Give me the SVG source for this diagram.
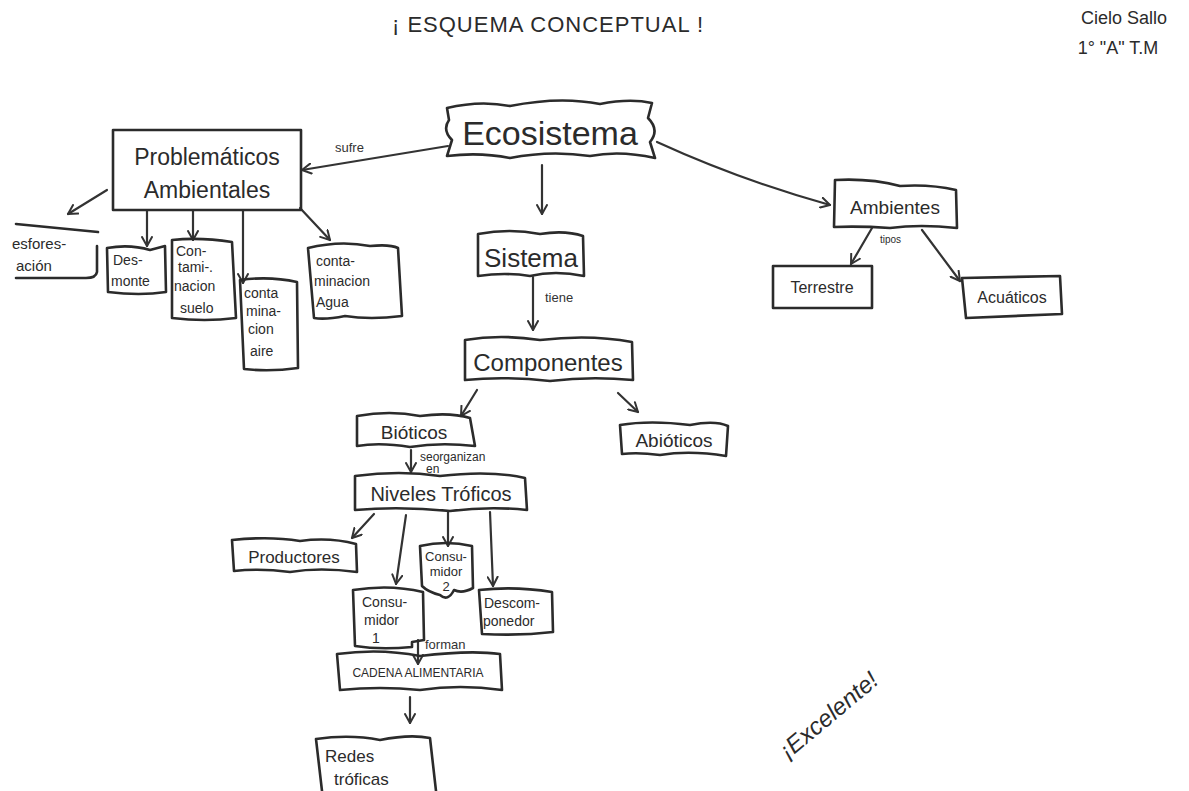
<svg xmlns="http://www.w3.org/2000/svg" width="1189" height="791" viewBox="0 0 1189 791">
<style>
.b{fill:none;stroke:#2b2b2b;stroke-width:2.6;stroke-linejoin:round;stroke-linecap:round}
.c{fill:none;stroke:#333;stroke-width:2.2;stroke-linecap:round}
.t{font-family:"Liberation Sans",Arial,sans-serif;fill:#2b2b2b}
.s{font-size:14px}
.m{font-size:15px}
.l{font-size:13px;fill:#333}
</style>
<defs>
<marker id="ah" viewBox="0 0 12 12" refX="10" refY="6" markerWidth="12" markerHeight="12" markerUnits="userSpaceOnUse" orient="auto">
<path d="M1,1 L10,6 L1,11" fill="none" stroke="#333" stroke-width="2" stroke-linecap="round" stroke-linejoin="round"/>
</marker>
</defs>
<rect width="1189" height="791" fill="#fff"/>

<g id="title">
<text class="t" x="548" y="32" font-size="22" text-anchor="middle" fill="#444" letter-spacing="1">¡ ESQUEMA CONCEPTUAL !</text>
</g>
<g id="author">
<text class="t" x="1124" y="24" font-size="18" text-anchor="middle" fill="#444">Cielo Sallo</text>
<text class="t" x="1118" y="54" font-size="18" text-anchor="middle" fill="#444">1° "A" T.M</text>
</g>

<g id="connectors">
<path class="c" d="M448,146 L302,170" marker-end="url(#ah)"/>
<path class="c" d="M542,165 L542,214" marker-end="url(#ah)"/>
<path class="c" d="M657,142 Q740,180 830,205" marker-end="url(#ah)"/>
<path class="c" d="M533,277 L533,330" marker-end="url(#ah)"/>
<path class="c" d="M477,390 L461,416" marker-end="url(#ah)"/>
<path class="c" d="M618,393 L638,412" marker-end="url(#ah)"/>
<path class="c" d="M411,450 L411,472" marker-end="url(#ah)"/>
<path class="c" d="M374,514 L352,538" marker-end="url(#ah)"/>
<path class="c" d="M406,515 L396,584" marker-end="url(#ah)"/>
<path class="c" d="M448,512 L448,546" marker-end="url(#ah)"/>
<path class="c" d="M490,512 L493,586" marker-end="url(#ah)"/>
<path class="c" d="M418,640 L418,664" marker-end="url(#ah)"/>
<path class="c" d="M410,697 L410,723" marker-end="url(#ah)"/>
<path class="c" d="M107,190 L68,214" marker-end="url(#ah)"/>
<path class="c" d="M147,211 L147,246" marker-end="url(#ah)"/>
<path class="c" d="M193,211 L193,240" marker-end="url(#ah)"/>
<path class="c" d="M243,211 L243,283" marker-end="url(#ah)"/>
<path class="c" d="M300,208 L330,240" marker-end="url(#ah)"/>
<path class="c" d="M872,228 L851,264" marker-end="url(#ah)"/>
<path class="c" d="M922,230 L960,281" marker-end="url(#ah)"/>
<text class="t l" x="335" y="152">sufre</text>
<text class="t l" x="545" y="302">tiene</text>
<text class="t" x="420" y="461" font-size="12" fill="#333">seorganizan</text>
<text class="t" x="426" y="473" font-size="12" fill="#333">en</text>
<text class="t l" x="425" y="649">forman</text>
<text class="t" x="880" y="243" font-size="10" fill="#333">tipos</text>
</g>

<g id="ecosistema">
<path class="b" d="M447,108 Q480,100 510,106 Q560,96 600,104 Q630,98 652,103 L648,118 Q660,130 650,142 L655,158 Q620,150 590,156 Q550,150 510,158 Q480,152 447,156 L452,140 Q442,130 449,120 Z"/>
<text class="t" x="550" y="145" font-size="34" text-anchor="middle">Ecosistema</text>
</g>

<g id="problematicas">
<rect class="b" x="113" y="130" width="188" height="80"/>
<text class="t" x="207" y="165" font-size="23" text-anchor="middle">Problemáticos</text>
<text class="t" x="207" y="198" font-size="23" text-anchor="middle">Ambientales</text>
</g>

<g id="deforestacion">
<path class="b" d="M16,224 L98,232 M97,246 L97,272 Q96,278 86,278 L16,278"/>
<text class="t m" x="12" y="249">esfores-</text>
<text class="t m" x="16" y="271">ación</text>
</g>

<g id="desmonte">
<path class="b" d="M107,248 Q130,244 150,250 L165,246 L166,292 Q140,296 108,292 Z"/>
<text class="t s" x="113" y="265">Des-</text>
<text class="t s" x="111" y="286">monte</text>
</g>

<g id="suelo">
<path class="b" d="M172,240 Q200,237 232,242 L236,318 Q205,322 172,318 Z"/>
<text class="t s" x="176" y="256">Con-</text>
<text class="t s" x="178" y="272">tami-.</text>
<text class="t s" x="174" y="291">nacion</text>
<text class="t s" x="180" y="313">suelo</text>
</g>

<g id="aire">
<path class="b" d="M240,280 Q270,276 297,282 L298,368 Q270,372 244,369 Z"/>
<text class="t s" x="244" y="298">conta</text>
<text class="t s" x="246" y="316">mina-</text>
<text class="t s" x="248" y="334">cion</text>
<text class="t s" x="250" y="356">aire</text>
</g>

<g id="agua">
<path class="b" d="M308,248 Q340,240 370,246 Q390,244 398,248 L402,316 Q370,320 345,316 Q325,320 314,318 Z"/>
<text class="t s" x="316" y="266">conta-</text>
<text class="t s" x="314" y="286">minacion</text>
<text class="t s" x="316" y="307">Agua</text>
</g>

<g id="sistema">
<path class="b" d="M478,234 Q510,228 540,234 Q565,230 583,236 L584,276 Q555,270 530,276 Q505,272 478,276 Z"/>
<text class="t" x="531" y="267" font-size="26" text-anchor="middle">Sistema</text>
</g>

<g id="componentes">
<path class="b" d="M465,340 Q500,334 540,340 Q590,334 632,342 L633,380 Q590,376 550,381 Q505,376 465,380 Z"/>
<text class="t" x="548" y="371" font-size="24" text-anchor="middle">Componentes</text>
</g>

<g id="bioticos">
<path class="b" d="M357,416 Q390,410 420,416 Q450,412 470,418 L475,446 Q440,442 410,447 Q380,442 357,446 Z"/>
<text class="t" x="414" y="439" font-size="19" text-anchor="middle">Bióticos</text>
</g>

<g id="abioticos">
<path class="b" d="M620,425 Q650,420 690,425 Q715,420 728,426 L726,456 Q690,450 660,455 Q638,452 622,454 Z"/>
<text class="t" x="674" y="447" font-size="19" text-anchor="middle">Abióticos</text>
</g>

<g id="niveles">
<path class="b" d="M355,476 Q400,470 440,476 Q490,470 525,478 L527,510 Q490,506 450,511 Q400,506 355,510 Z"/>
<text class="t" x="441" y="501" font-size="20" text-anchor="middle">Niveles Tróficos</text>
</g>

<g id="productores">
<path class="b" d="M232,540 Q270,536 300,541 Q330,537 356,544 L357,572 Q320,567 290,572 Q260,568 234,571 Z"/>
<text class="t" x="294" y="563" font-size="17" text-anchor="middle">Productores</text>
</g>

<g id="consumidor1">
<path class="b" d="M353,590 Q390,584 423,592 L424,640 L412,642 L412,647 Q380,650 355,646 Z"/>
<text class="t s" x="362" y="607">Consu-</text>
<text class="t s" x="364" y="625">midor</text>
<text class="t s" x="372" y="643">1</text>
</g>

<g id="consumidor2">
<path class="b" d="M420,546 Q446,540 472,546 L473,588 Q462,594 454,590 Q448,602 440,595 Q428,592 422,586 Z"/>
<text class="t" x="446" y="561" font-size="13" text-anchor="middle">Consu-</text>
<text class="t" x="446" y="576" font-size="13" text-anchor="middle">midor</text>
<text class="t" x="446" y="591" font-size="13" text-anchor="middle">2</text>
</g>

<g id="descomponedor">
<path class="b" d="M479,590 Q515,586 552,592 L553,632 Q520,636 482,634 Z"/>
<text class="t s" x="484" y="608">Descom-</text>
<text class="t s" x="483" y="626">ponedor</text>
</g>

<g id="cadena">
<path class="b" d="M337,654 Q380,648 420,656 Q470,650 500,654 L502,690 Q460,684 420,690 Q380,686 340,690 Z"/>
<text class="t" x="418" y="677" font-size="12" text-anchor="middle">CADENA ALIMENTARIA</text>
</g>

<g id="redes">
<path class="b" d="M316,739 Q350,734 380,740 Q410,734 430,738 L436,791 M316,739 L322,791"/>
<text class="t" x="325" y="762" font-size="17">Redes</text>
<text class="t" x="334" y="785" font-size="17">tróficas</text>
</g>

<g id="ambientes">
<path class="b" d="M835,180 Q870,178 900,186 Q930,184 956,190 L957,228 Q920,224 890,228 Q860,226 834,227 Z"/>
<text class="t" x="895" y="214" font-size="19" text-anchor="middle">Ambientes</text>
</g>

<g id="terrestre">
<rect class="b" x="773" y="266" width="99" height="42"/>
<text class="t" x="822" y="293" font-size="16" text-anchor="middle">Terrestre</text>
</g>

<g id="acuaticos">
<path class="b" d="M962,278 L1060,276 L1062,314 L966,318 Z"/>
<text class="t" x="1012" y="303" font-size="16" text-anchor="middle">Acuáticos</text>
</g>

<g id="excelente">
<text class="t" x="0" y="0" font-size="24" fill="#9a9a9a" transform="translate(788,760) rotate(-40)" font-style="italic">¡Excelente!</text>
</g>
</svg>
